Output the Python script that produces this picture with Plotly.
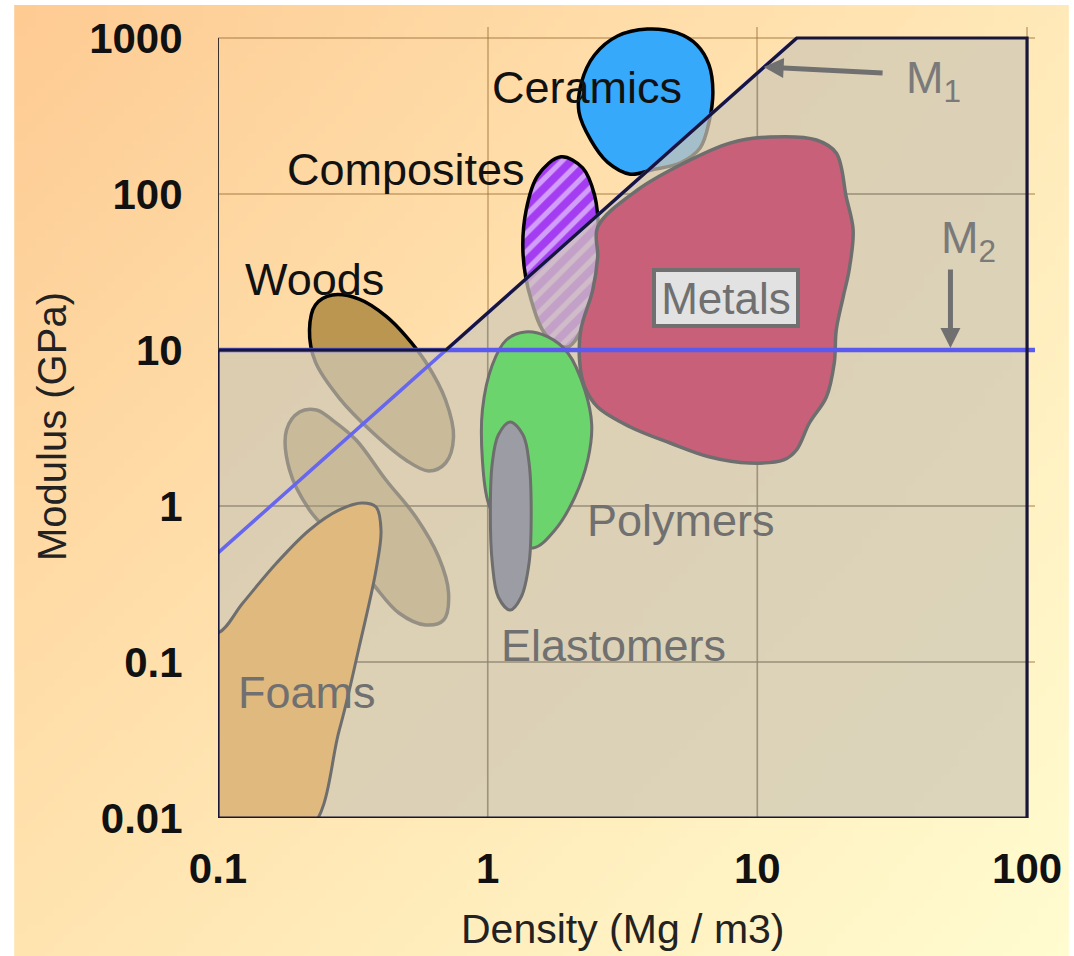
import base64
import struct
import zlib

import numpy as np
import plotly.graph_objects as go

# ---------------------------------------------------------------- data
# material-family outlines (density Mg/m3, modulus GPa)
ceramics_density = [3.91, 5.04, 5.97, 6.62, 6.84, 6.62, 6.13, 5.17, 4.08, 3.38, 2.78, 2.41, 2.18, 2.23, 2.49, 3.03]
ceramics_modulus = [1142, 1077, 902, 671, 451, 289, 197, 158, 143, 134, 160, 222, 335, 522, 778, 1030]

composites_density = [1.87, 2.25, 2.49, 2.58, 2.52, 2.31, 1.98, 1.645, 1.45, 1.353, 1.389, 1.537]
composites_modulus = [173, 147, 98.5, 54.6, 28.1, 15.6, 10.45, 12.5, 20.9, 40.6, 78.9, 132]

woods_along_density = [0.2654, 0.3337, 0.4196, 0.4972, 0.589, 0.698, 0.747, 0.698, 0.6044, 0.4972, 0.3727, 0.2816, 0.2297, 0.2184, 0.2297]
woods_along_modulus = [22.5, 21.2, 16.5, 12.29, 8.38, 4.78, 2.77, 1.886, 1.677, 1.972, 2.98, 4.92, 8.38, 13.43, 19.43]

woods_across_density = [0.2317, 0.2654, 0.3253, 0.4196, 0.5414, 0.658, 0.716, 0.6865, 0.589, 0.4688, 0.3727, 0.2816, 0.2184, 0.1842, 0.1795, 0.2006]
woods_across_modulus = [4.125, 3.557, 2.649, 1.468, 0.850, 0.471, 0.2769, 0.1858, 0.1727, 0.2061, 0.3209, 0.579, 0.943, 1.701, 3.07, 4.005]

foams_density = [0.08, 0.212, 0.2816, 0.3337, 0.3855, 0.4022, 0.3855, 0.3423, 0.2816, 0.2184, 0.1649, 0.1236, 0.1, 0.08]
foams_modulus = [0.008, 0.008, 0.0366, 0.1248, 0.3888, 0.702, 0.985, 1.045, 0.943, 0.702, 0.431, 0.2388, 0.1534, 0.16]

polymers_density = [1.377, 1.673, 1.983, 2.291, 2.431, 2.35, 2.105, 1.776, 1.473, 1.162, 1.006, 0.956, 0.956, 1.040, 1.172]
polymers_modulus = [13.05, 12.12, 9.57, 5.54, 3.305, 1.972, 1.142, 0.702, 0.538, 0.652, 1.045, 1.972, 4.125, 8.01, 11.59]

elastomers_density = [1.212, 1.353, 1.424, 1.45, 1.424, 1.331, 1.212, 1.095, 1.040, 1.023, 1.040, 1.095]
elastomers_modulus = [3.455, 2.851, 1.886, 0.902, 0.431, 0.261, 0.2154, 0.261, 0.431, 0.902, 1.886, 2.851]

metals_density = [2.558, 3.592, 5.35, 7.91, 11.1, 16.55, 19.61, 21.35, 22.65, 21.89, 20.8, 19.61, 19.28, 18.02,
                  15.59, 13.96, 12.51, 9.37, 6.67, 4.75, 3.38, 2.558, 2.291, 2.195, 2.214, 2.452, 2.558]
metals_modulus = [61.4, 106.1, 158, 212, 231.8, 222, 183, 95.7, 58.8, 32.6, 21.86, 13.43, 8.26, 5.0,
                  3.405, 2.286, 1.972, 1.886, 2.061, 2.534, 3.21, 4.31, 5.79, 8.26, 13.43, 24.24, 39.5]

# selection lines: M1 (sloped) and M2 (constant modulus)
m1_density = [0.1, 14.0]
m1_modulus = [0.5, 1000.0]
m2_density = [0.1, 107.0]
m2_modulus = [10.0, 10.0]

# axes
x_ticks = [0.1, 1, 10, 100]
x_tick_text = ["0.1", "1", "10", "100"]
y_ticks = [0.01, 0.1, 1, 10, 100, 1000]
y_tick_text = ["0.01", "0.1", "1", "10", "100", "1000"]
x_min, x_max = 0.1, 100
y_min, y_max = 0.01, 1000

# label placements (density, modulus)
labels = [
    ("Ceramics", 2.33, 485, "#111111"),
    ("Composites", 0.4993, 144.6, "#111111"),
    ("Woods", 0.2279, 28.5, "#111111"),
    ("Polymers", 5.22, 0.813, "#707070"),
    ("Elastomers", 2.93, 0.1285, "#707070"),
    ("Foams", 0.2146, 0.0633, "#707070"),
]
metals_label = ("Metals", 7.64, 21.5)
m1_label = (34.9, 538)
m2_label = (47.0, 50.7)
m1_arrow = ((29.5, 596.5), (10.55, 651.8))   # tail, head
m2_arrow = ((52.0, 33.5), (52.0, 10.3))

FONT = "Liberation Sans, Arial, sans-serif"

# ---------------------------------------------------------------- page geometry
W, H = 1074, 956
ML, MR, MT, MB = 218, 34, 27, 138
PX_PER_DEC_X = 814 / 3.0
PX_PER_DEC_Y = 780 / 5.0
plot_w = W - ML - MR
plot_h = H - MT - MB
x_range = [np.log10(x_min), np.log10(x_min) + plot_w / PX_PER_DEC_X]
y_range = [np.log10(y_min), np.log10(y_min) + plot_h / PX_PER_DEC_Y]


def gradient_png(w, h, tl, tr, bl, br):
    """Small RGB PNG with a bilinear colour blend between four corners."""
    rows = []
    for j in range(h):
        v = j / (h - 1)
        row = bytearray([0])
        for i in range(w):
            u = i / (w - 1)
            for c in range(3):
                val = ((1 - u) * (1 - v) * tl[c] + u * (1 - v) * tr[c]
                       + (1 - u) * v * bl[c] + u * v * br[c])
                row.append(int(round(val)))
        rows.append(bytes(row))
    raw = b"".join(rows)

    def chunk(tag, data):
        return (struct.pack(">I", len(data)) + tag + data
                + struct.pack(">I", zlib.crc32(tag + data) & 0xFFFFFFFF))

    png = (b"\x89PNG\r\n\x1a\n"
           + chunk(b"IHDR", struct.pack(">IIBBBBB", w, h, 8, 2, 0, 0, 0))
           + chunk(b"IDAT", zlib.compress(raw, 9))
           + chunk(b"IEND", b""))
    return "data:image/png;base64," + base64.b64encode(png).decode()


def m1_at(x):
    """Modulus on the M1 line at density x (straight line in log-log)."""
    lx = np.log10(m1_density)
    ly = np.log10(m1_modulus)
    slope = (ly[1] - ly[0]) / (lx[1] - lx[0])
    return 10 ** (ly[0] + slope * (np.log10(x) - lx[0]))


def m1_density_at(y):
    lx = np.log10(m1_density)
    ly = np.log10(m1_modulus)
    slope = (ly[1] - ly[0]) / (lx[1] - lx[0])
    return 10 ** (lx[0] + (np.log10(y) - ly[0]) / slope)


fig = go.Figure()


def blob(xs, ys, fill, line_color, width=3.5, pattern=None):
    kw = {}
    if pattern is not None:
        kw["fillpattern"] = pattern
    fig.add_trace(go.Scatter(
        x=xs + xs[:1], y=ys + ys[:1], mode="lines", fill="toself",
        fillcolor=fill, line=dict(color=line_color, width=width, shape="spline", smoothing=1.0),
        hoverinfo="skip", showlegend=False, **kw))


# families partly inside the selected region (drawn under the shaded overlay)
blob(ceramics_density, ceramics_modulus, "#36a9fb", "#000000")
blob(composites_density, composites_modulus, "#a43cf2", "#000000",
     pattern=dict(shape="/", bgcolor="#a43cf2", fgcolor="#ffffff", size=13, solidity=0.4))
blob(woods_across_density, woods_across_modulus, "#bb9650", "#000000")
blob(woods_along_density, woods_along_modulus, "#bb9650", "#000000")

# shaded region rejected by the M1 / M2 criteria
x_int = m1_density_at(m2_modulus[0])
overlay_x = [x_min, x_min, x_int, m1_density[1], x_max, x_max, x_min]
overlay_y = [y_min, m2_modulus[0], m2_modulus[0], y_max, y_max, y_min, y_min]
fig.add_trace(go.Scatter(x=overlay_x, y=overlay_y, mode="lines", fill="toself",
                         fillcolor="rgba(207,199,182,0.72)", line=dict(width=0),
                         hoverinfo="skip", showlegend=False))

# grid lines inside the shaded region
gx, gy = [], []
for yt in [0.1, 1]:
    gx += [x_min, x_max, None]
    gy += [yt, yt, None]
for yt in [100]:
    gx += [m1_density_at(yt), x_max, None]
    gy += [yt, yt, None]
for xt in [1, 10]:
    gx += [xt, xt, None]
    gy += [y_min, min(m1_at(xt), y_max), None]
fig.add_trace(go.Scatter(x=gx, y=gy, mode="lines", line=dict(color="rgba(140,132,115,0.75)", width=1.5),
                         hoverinfo="skip", showlegend=False, connectgaps=False))

# families entirely in the shaded region
blob(foams_density, foams_modulus, "#e0b97e", "#6e6e6e", width=3)
blob(metals_density, metals_modulus, "#c9607a", "#6e6e6e", width=3.5)
blob(polymers_density, polymers_modulus, "#6cd46c", "#6e6e6e", width=3)
blob(elastomers_density, elastomers_modulus, "#9c9ca4", "#6e6e6e", width=3)

# selection lines
fig.add_trace(go.Scatter(x=m2_density, y=m2_modulus, mode="lines",
                         line=dict(color="#5a5af0", width=4.5), hoverinfo="skip", showlegend=False))
fig.add_trace(go.Scatter(x=m1_density, y=m1_modulus, mode="lines",
                         line=dict(color="#6666ee", width=3.5), hoverinfo="skip", showlegend=False))

# border of the shaded region and the left frame above it
fig.add_trace(go.Scatter(x=overlay_x, y=overlay_y, mode="lines",
                         line=dict(color="#17163a", width=3.2), hoverinfo="skip", showlegend=False))
fig.add_trace(go.Scatter(x=[x_min, x_min], y=[m2_modulus[0], y_max], mode="lines",
                         line=dict(color="#3a322c", width=2), hoverinfo="skip", showlegend=False))

# ---------------------------------------------------------------- annotations
ann = []
for text, xd, yd, col in labels:
    ann.append(dict(x=np.log10(xd), y=np.log10(yd), xref="x", yref="y", text=text, showarrow=False,
                    font=dict(family=FONT, size=45, color=col), xanchor="center", yanchor="middle"))
ann.append(dict(x=np.log10(metals_label[1]), y=np.log10(metals_label[2]), xref="x", yref="y",
                text=metals_label[0], showarrow=False,
                font=dict(family=FONT, size=44, color="#707070"),
                bgcolor="#e2e2e2", bordercolor="#707070", borderwidth=4, borderpad=1,
                width=138, height=50, xanchor="center", yanchor="middle"))
ann.append(dict(x=np.log10(m1_label[0]), y=np.log10(m1_label[1]), xref="x", yref="y",
                text="M<sub>1</sub>", showarrow=False, font=dict(family=FONT, size=45, color="#7a7a7a"),
                xanchor="left", yanchor="middle"))
ann.append(dict(x=np.log10(m2_label[0]), y=np.log10(m2_label[1]), xref="x", yref="y",
                text="M<sub>2</sub>", showarrow=False, font=dict(family=FONT, size=45, color="#7a7a7a"),
                xanchor="left", yanchor="middle"))
for (tail, head) in [m1_arrow, m2_arrow]:
    ann.append(dict(x=np.log10(head[0]), y=np.log10(head[1]), xref="x", yref="y",
                    ax=np.log10(tail[0]), ay=np.log10(tail[1]), axref="x", ayref="y",
                    text="", showarrow=True, arrowhead=2, arrowsize=0.8, arrowwidth=5,
                    arrowcolor="#707070", standoff=0, startstandoff=0))

# axis titles
ann.append(dict(x=(625 - ML) / plot_w, y=(MT + plot_h - 929) / plot_h, xref="paper", yref="paper",
                text="Density (Mg / m3)", showarrow=False,
                font=dict(family=FONT, size=41, color="#222222"), xanchor="center", yanchor="middle"))
ann.append(dict(x=(51 - ML) / plot_w, y=(MT + plot_h - 427) / plot_h, xref="paper", yref="paper",
                text="Modulus (GPa)", showarrow=False, textangle=-90,
                font=dict(family=FONT, size=40, color="#222222"), xanchor="center", yanchor="middle"))

# background wash across the whole page
bg = gradient_png(120, 108, (254, 203, 147), (255, 233, 184), (255, 228, 176), (255, 252, 208))
left_edge, top_edge = 13, 5
images = [dict(source=bg, xref="paper", yref="paper",
               x=(left_edge - ML) / plot_w, y=(MT + plot_h - top_edge) / plot_h,
               sizex=(W - left_edge) / plot_w, sizey=(H - top_edge) / plot_h,
               xanchor="left", yanchor="top", sizing="stretch", layer="below")]

tick_font = dict(family=FONT, size=42, color="#111111", weight="bold")
fig.update_layout(
    width=W, height=H,
    margin=dict(l=ML, r=MR, t=MT, b=MB, pad=0),
    paper_bgcolor="#ffffff", plot_bgcolor="rgba(0,0,0,0)",
    showlegend=False, hovermode=False,
    annotations=ann, images=images,
    xaxis=dict(type="log", range=x_range, tickvals=x_ticks, ticktext=x_tick_text,
               showgrid=True, gridcolor="rgba(160,115,60,0.45)", gridwidth=1.5,
               zeroline=False, showline=False, ticks="outside", ticklen=14,
               tickcolor="rgba(0,0,0,0)", tickfont=tick_font, fixedrange=True),
    yaxis=dict(type="log", range=y_range, tickvals=y_ticks, ticktext=y_tick_text,
               showgrid=True, gridcolor="rgba(160,115,60,0.45)", gridwidth=1.5,
               zeroline=False, showline=False, ticks="outside", ticklen=26,
               tickcolor="rgba(0,0,0,0)", tickfont=tick_font, fixedrange=True),
)

fig.write_html("out.html")
